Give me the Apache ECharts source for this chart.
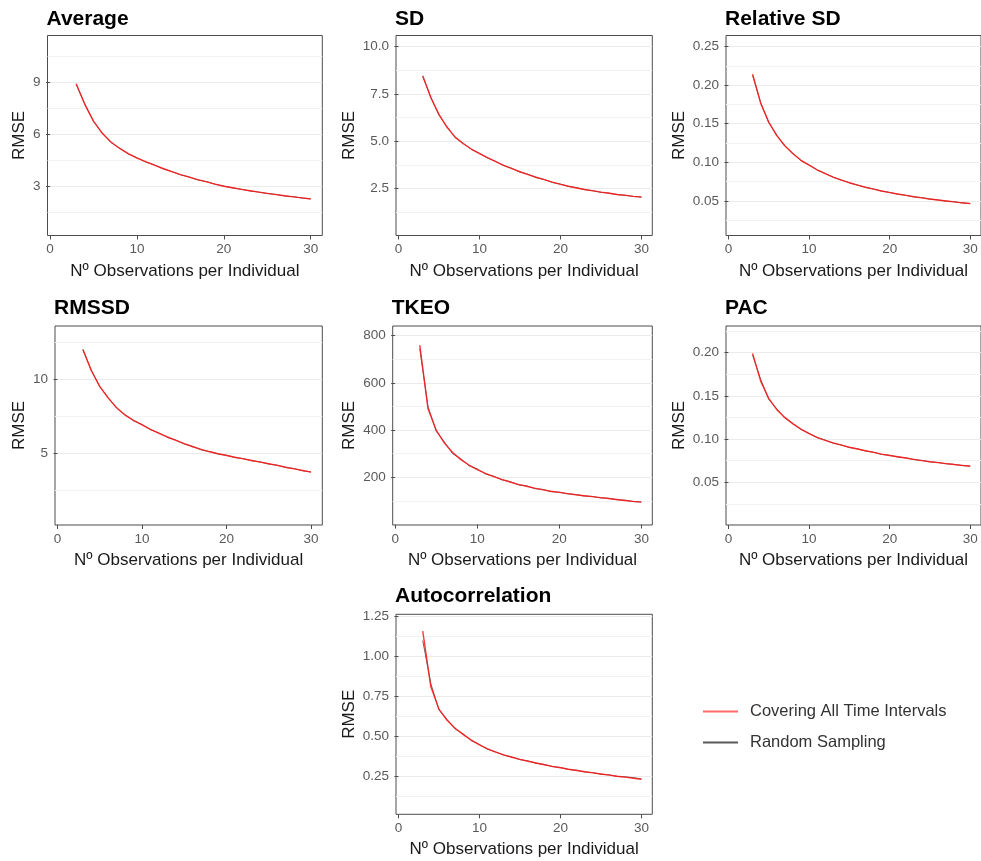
<!DOCTYPE html>
<html><head><meta charset="utf-8">
<script src="https://cdn.jsdelivr.net/npm/echarts@6/dist/echarts.min.js"></script>
<style>html,body{margin:0;padding:0;background:#fff}#c{width:981px;height:861px}</style>
</head><body><div id="c"></div>
<script>
// ---------- data ----------
const nObs = [3,4,5,6,7,8,9,10,11,12,13,14,15,16,17,18,19,20,21,22,23,24,25,26,27,28,29,30];
const seriesNames = ['Covering All Time Intervals', 'Random Sampling'];
const xTicks = [0, 10, 20, 30];

const avgCover  = [8.90,7.70,6.75,6.05,5.55,5.18,4.88,4.63,4.42,4.22,4.03,3.85,3.68,3.53,3.39,3.26,3.13,3.01,2.92,2.83,2.75,2.67,2.60,2.53,2.46,2.40,2.34,2.28];
const avgRandom = [8.86,7.74,6.72,6.08,5.52,5.20,4.86,4.65,4.40,4.24,4.01,3.86,3.67,3.55,3.37,3.28,3.12,3.02,2.91,2.84,2.74,2.68,2.59,2.54,2.45,2.41,2.33,2.29];

const sdCover  = [8.46,7.30,6.42,5.74,5.22,4.87,4.59,4.35,4.13,3.92,3.73,3.55,3.39,3.24,3.10,2.97,2.84,2.72,2.62,2.53,2.45,2.38,2.31,2.25,2.19,2.14,2.09,2.05];
const sdRandom = [8.42,7.34,6.38,5.77,5.19,4.90,4.57,4.37,4.11,3.94,3.71,3.57,3.37,3.26,3.08,2.98,2.82,2.74,2.61,2.55,2.44,2.39,2.30,2.26,2.18,2.15,2.08,2.06];

const rsdCover  = [0.2142,0.1767,0.1521,0.1346,0.1214,0.1110,0.1026,0.0962,0.0903,0.0852,0.0808,0.0769,0.0735,0.0704,0.0676,0.0651,0.0628,0.0607,0.0588,0.0570,0.0553,0.0538,0.0523,0.0510,0.0498,0.0486,0.0474,0.0464];
const rsdRandom = [0.2128,0.1775,0.1515,0.1352,0.1210,0.1116,0.1022,0.0966,0.0900,0.0856,0.0805,0.0772,0.0733,0.0707,0.0674,0.0654,0.0626,0.0610,0.0586,0.0573,0.0551,0.0541,0.0521,0.0512,0.0496,0.0488,0.0472,0.0466];

const rmssdCover  = [12.00,10.55,9.50,8.70,8.05,7.55,7.20,6.90,6.60,6.33,6.08,5.85,5.63,5.42,5.24,5.08,4.95,4.83,4.71,4.60,4.49,4.38,4.27,4.16,4.04,3.93,3.82,3.71];
const rmssdRandom = [11.95,10.60,9.46,8.74,8.02,7.58,7.17,6.93,6.57,6.36,6.05,5.88,5.60,5.45,5.21,5.10,4.93,4.85,4.69,4.62,4.47,4.40,4.25,4.18,4.02,3.95,3.80,3.72];

const tkeoCover  = [760,490,400,345,305,275,252,233,217,203,191,180,170,162,154,147,141,136,131,126,122,118,114,110,106,102,98,95];
const tkeoRandom = [745,500,395,350,300,279,249,236,214,205,189,182,168,164,152,149,139,137,130,127,121,119,113,111,105,103,97,96];

const pacCover  = [0.199,0.167,0.147,0.134,0.125,0.1175,0.1115,0.1062,0.102,0.0985,0.0955,0.0930,0.0905,0.0885,0.0865,0.0845,0.0825,0.0810,0.0795,0.0780,0.0765,0.0750,0.0738,0.0727,0.0716,0.0705,0.0695,0.0685];
const pacRandom = [0.197,0.169,0.146,0.135,0.124,0.1180,0.1110,0.1066,0.1016,0.0988,0.0951,0.0933,0.0902,0.0888,0.0862,0.0848,0.0822,0.0812,0.0792,0.0783,0.0762,0.0752,0.0736,0.0729,0.0714,0.0707,0.0693,0.0687];

const acCover  = [1.16,0.81,0.67,0.60,0.55,0.51,0.475,0.445,0.42,0.40,0.383,0.368,0.355,0.343,0.332,0.321,0.311,0.302,0.293,0.285,0.277,0.270,0.263,0.256,0.249,0.243,0.236,0.229];
const acRandom = [1.10,0.83,0.665,0.605,0.545,0.515,0.472,0.448,0.418,0.402,0.381,0.370,0.353,0.345,0.330,0.323,0.309,0.304,0.291,0.287,0.275,0.272,0.261,0.258,0.247,0.245,0.240,0.232];

const avgTicks = [3,6,9],              avgMinor = [1.5,4.5,7.5,10.5];
const sdTicks = [2.5,5,7.5,10],        sdMinor = [1.25,3.75,6.25,8.75];
const rsdTicks = [0.05,0.10,0.15,0.20,0.25], rsdMinor = [0.025,0.075,0.125,0.175,0.225];
const rmssdTicks = [5,10],             rmssdMinor = [2.5,7.5,12.5];
const tkeoTicks = [200,400,600,800],   tkeoMinor = [100,300,500,700];
const pacTicks = [0.05,0.10,0.15,0.20], pacMinor = [0.025,0.075,0.125,0.175,0.225];
const acTicks = [0.25,0.50,0.75,1.00,1.25], acMinor = [0.125,0.375,0.625,0.875,1.125];

// ---------- layout ----------
const panels = [
  {title:'Average', cover:avgCover, random:avgRandom, ticks:avgTicks, minor:avgMinor, dec:0, ymin:0.18, ymax:11.67, left:47.5, top:35.5, width:274.8, height:200, yGap:20},
  {title:'SD', cover:sdCover, random:sdRandom, ticks:sdTicks, minor:sdMinor, dec:1, ymin:0.02, ymax:10.59, left:396, top:35.5, width:256.3, height:200, yGap:38.5},
  {title:'Relative SD', cover:rsdCover, random:rsdRandom, ticks:rsdTicks, minor:rsdMinor, dec:2, ymin:0.005, ymax:0.2645, left:726, top:35.5, width:256, height:200, yGap:38.5},
  {title:'RMSSD', cover:rmssdCover, random:rmssdRandom, ticks:rmssdTicks, minor:rmssdMinor, dec:0, ymin:0.14, ymax:13.57, left:55, top:326, width:267.3, height:199, yGap:27.5},
  {title:'TKEO', cover:tkeoCover, random:tkeoRandom, ticks:tkeoTicks, minor:tkeoMinor, dec:0, ymin:-2, ymax:841, left:392.7, top:326, width:259.6, height:199, yGap:35},
  {title:'PAC', cover:pacCover, random:pacRandom, ticks:pacTicks, minor:pacMinor, dec:2, ymin:0.0006, ymax:0.2307, left:726, top:326, width:256, height:199, yGap:38.5},
  {title:'Autocorrelation', cover:acCover, random:acRandom, ticks:acTicks, minor:acMinor, dec:2, ymin:0.01, ymax:1.265, left:396, top:614.3, width:256.3, height:200, yGap:38.5}
];

const FONT = 'Liberation Sans, Arial, Helvetica, sans-serif';
const titleTops = {35.5: 3.5, 326: 292.5, 614.3: 580.5};
const RED = 'rgba(255,20,20,0.85)';
const BLACK = 'rgba(0,0,0,0.6)';

const grids = [], xAxes = [], yAxes = [], series = [], titles = [];
panels.forEach((p, i) => {
  grids.push({left:p.left, top:p.top, width:p.width, height:p.height, show:true,
    borderColor:'#4d4d4d', borderWidth:1, backgroundColor:'#fff', containLabel:false});
  titles.push({text:p.title, left:p.left - 6, top:titleTops[p.top],
    textStyle:{fontFamily:FONT, fontSize:21, fontWeight:'bold', color:'#000'}});
  xAxes.push({type:'value', gridIndex:i, min:-0.3, max:31.33,
    name:'Nº Observations per Individual', nameLocation:'middle', nameGap:27,
    nameTextStyle:{fontFamily:FONT, fontSize:17, color:'#1a1a1a'},
    axisLine:{show:false},
    axisTick:{show:true, inside:false, length:4, customValues:xTicks, lineStyle:{color:'#4d4d4d', width:1}},
    axisLabel:{customValues:xTicks, margin:7, fontFamily:FONT, fontSize:13.5, color:'#5a5a5a'},
    splitLine:{show:false}});
  yAxes.push({type:'value', gridIndex:i, min:p.ymin, max:p.ymax,
    name:'RMSE', nameLocation:'middle', nameGap:p.yGap, nameRotate:90,
    nameTextStyle:{fontFamily:FONT, fontSize:17, color:'#1a1a1a'},
    axisLine:{show:false},
    axisTick:{show:true, inside:false, length:4, customValues:p.ticks, lineStyle:{color:'#4d4d4d', width:1}},
    axisLabel:{customValues:p.ticks, margin:7, fontFamily:FONT, fontSize:13.5, color:'#5a5a5a',
      formatter:(v)=>Number(v).toFixed(p.dec)},
    splitLine:{show:true, lineStyle:{color:'#ebebeb', width:1}}});
  yAxes.push({type:'value', gridIndex:i, min:p.ymin, max:p.ymax, position:'left',
    axisLine:{show:false},
    axisTick:{show:false, customValues:p.minor},
    axisLabel:{show:false, customValues:p.minor},
    splitLine:{show:true, lineStyle:{color:'#f3f3f3', width:1}}});
  series.push({name:seriesNames[1], type:'line', xAxisIndex:i, yAxisIndex:2*i,
    data:nObs.map((n,k)=>[n, p.random[k]]), symbol:'none', color:BLACK,
    lineStyle:{color:BLACK, width:1.0}, z:2, silent:true, animation:false});
  series.push({name:seriesNames[0], type:'line', xAxisIndex:i, yAxisIndex:2*i,
    data:nObs.map((n,k)=>[n, p.cover[k]]), symbol:'none', color:RED,
    lineStyle:{color:RED, width:1.4}, z:3, silent:true, animation:false});
});

const chart = echarts.init(document.getElementById('c'), null, {renderer:'canvas'});
chart.setOption({
  backgroundColor:'#fff',
  animation:false,
  title:titles,
  grid:grids,
  xAxis:xAxes,
  yAxis:yAxes,
  legend:{
    data:[{name:seriesNames[0], itemStyle:{color:'#ff6b6b'}},
          {name:seriesNames[1], itemStyle:{color:'#5a5a5a'}}],
    orient:'vertical', left:698, top:698, itemWidth:35, itemHeight:2,
    icon:'rect', itemGap:14, selectedMode:false,
    textStyle:{fontFamily:FONT, fontSize:16.5, color:'#333', padding:[0,0,0,7]}},
  series:series
});
</script>
</body></html>
